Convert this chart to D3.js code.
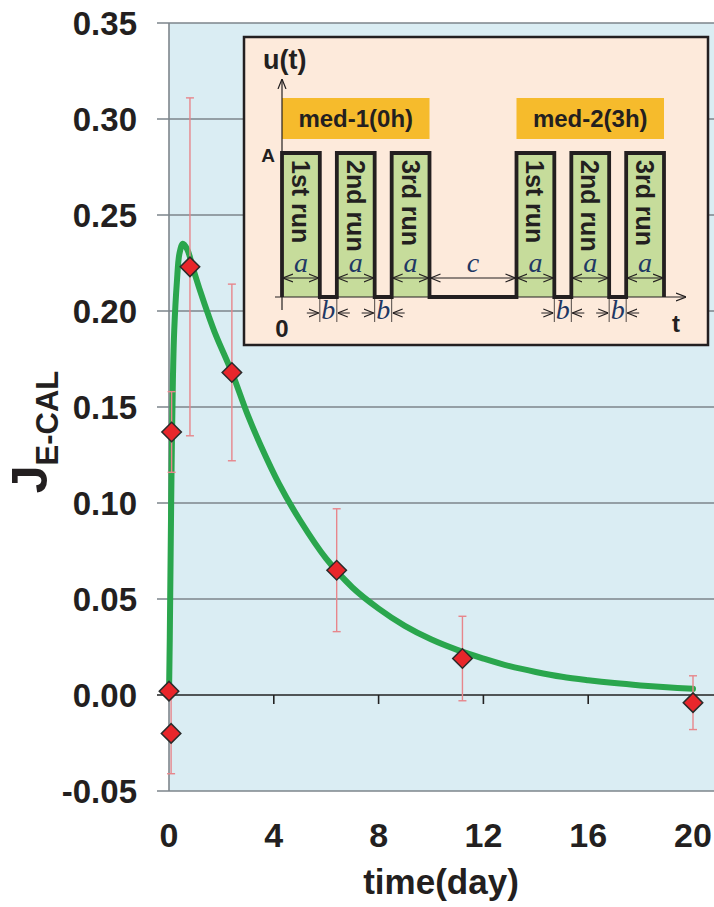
<!DOCTYPE html>
<html>
<head>
<meta charset="utf-8">
<script src="https://cdn.jsdelivr.net/npm/d3@7"></script>
<style>
  body { margin: 0; background: #fff; }
</style>
</head>
<body>
<div id="chart"></div>
<script>
// ----------------- //
// Data
// ----------------- //

// measured points (day, J) with error half-width
var pointDays = [0, 0.08, 0.1, 0.8, 2.4, 6.4, 11.2, 20]
var pointVals = [0.002, -0.020, 0.137, 0.223, 0.168, 0.065, 0.019, -0.004]
var pointErrs = [0, 0.021, 0.021, 0.088, 0.046, 0.032, 0.022, 0.014]

// fitted curve
var curveDays = [0, 0.03, 0.06, 0.1, 0.15, 0.2, 0.3, 0.4, 0.53, 0.7, 0.9, 1.2, 1.5, 1.8, 2.4, 3.0, 3.5, 4.2, 5.0, 6.0, 7.0, 8.0, 9.0, 10, 11, 12, 13, 14, 15, 16, 17, 18, 19, 20]
var curveVals = [0, 0.03, 0.07, 0.12, 0.165, 0.19, 0.215, 0.23, 0.235, 0.232, 0.223, 0.210, 0.198, 0.187, 0.168, 0.146, 0.130, 0.110, 0.091, 0.071, 0.056, 0.045, 0.036, 0.029, 0.0235, 0.019, 0.015, 0.012, 0.0095, 0.0077, 0.0062, 0.005, 0.004, 0.0032]

var xTicks = [0, 4, 8, 12, 16, 20]
var yTicks = [-0.05, 0, 0.05, 0.10, 0.15, 0.20, 0.25, 0.30, 0.35]

// inset: pulse schedule (relative units), labels
var pulseStarts = [0, 1.45, 2.9, 6.2, 7.65, 9.1]
var pulseWidth = 1
var pulseLabels = ["1st run", "2nd run", "3rd run", "1st run", "2nd run", "3rd run"]
var medLabels = ["med-1(0h)", "med-2(3h)"]

var SANS = "Liberation Sans, Arial, sans-serif"
var SERIF = "Liberation Serif, Times New Roman, serif"

// ----------------- //
// Canvas
// ----------------- //
var W = 714, H = 907
var svg = d3.select("#chart").append("svg")
    .attr("width", W)
    .attr("height", H)
    .attr("font-family", SANS)

var x = d3.scaleLinear().domain([0, 20]).range([169, 693])
var y = d3.scaleLinear().domain([-0.05, 0.35]).range([791, 23])

// plot background
svg.append("rect")
    .attr("x", x(0)).attr("y", y(0.35))
    .attr("width", W - x(0)).attr("height", y(-0.05) - y(0.35))
    .attr("fill", "#daedf3")

// gridlines
svg.append("g")
    .selectAll("line")
    .data(yTicks)
    .enter()
    .append("line")
    .attr("x1", x(0) - 12).attr("x2", W)
    .attr("y1", function(d) { return y(d) }).attr("y2", function(d) { return y(d) })
    .attr("stroke", function(d) { return d === 0 ? "#222" : "#7d858b" })
    .attr("stroke-width", 1.6)

// left axis line
svg.append("line")
    .attr("x1", x(0)).attr("x2", x(0))
    .attr("y1", y(0.35)).attr("y2", y(-0.05))
    .attr("stroke", "#7d858b").attr("stroke-width", 1.6)

// x ticks on zero line
svg.append("g")
    .selectAll("line")
    .data(xTicks.slice(1))
    .enter()
    .append("line")
    .attr("x1", function(d) { return x(d) }).attr("x2", function(d) { return x(d) })
    .attr("y1", y(0)).attr("y2", y(0) + 9)
    .attr("stroke", "#222").attr("stroke-width", 1.6)

// y tick labels (plain hyphen for the minus sign)
svg.append("g")
    .selectAll("text")
    .data(yTicks)
    .enter()
    .append("text")
    .attr("x", 137)
    .attr("y", function(d) { return y(d) })
    .attr("dy", "0.36em")
    .attr("text-anchor", "end")
    .attr("font-size", "33px")
    .attr("font-weight", "bold")
    .attr("fill", "#231f20")
    .text(function(d) { return (d < 0 ? "-" : "") + Math.abs(d).toFixed(2) })

// x tick labels
svg.append("g")
    .selectAll("text")
    .data(xTicks)
    .enter()
    .append("text")
    .attr("x", function(d) { return x(d) })
    .attr("y", 847)
    .attr("text-anchor", "middle")
    .attr("font-size", "34px")
    .attr("font-weight", "bold")
    .attr("fill", "#231f20")
    .text(function(d) { return d })

// axis titles
svg.append("text")
    .attr("x", 441).attr("y", 894)
    .attr("text-anchor", "middle")
    .attr("font-size", "35px")
    .attr("font-weight", "bold")
    .attr("fill", "#231f20")
    .text("time(day)")

var yl = svg.append("text")
    .attr("transform", "translate(47,432) rotate(-90)")
    .attr("text-anchor", "middle")
    .attr("font-weight", "bold")
    .attr("fill", "#231f20")
yl.append("tspan").attr("font-size", "50px").text("J")
yl.append("tspan").attr("font-size", "31px").attr("dy", 11).text("E-CAL")

// ------------------------------- //
// Inset
// ------------------------------- //
var ix0 = 244, iy0 = 37, iw = 464, ih = 308
var inset = svg.append("g")
inset.append("rect")
    .attr("x", ix0).attr("y", iy0)
    .attr("width", iw).attr("height", ih)
    .attr("fill", "#fdeadb")
    .attr("stroke", "#231f20").attr("stroke-width", 2.5)

// pulse scale: relative units to pixels
var px = d3.scaleLinear().domain([0, 10.1]).range([282, 664])
var pTop = 153, pBase = 297

var defs = svg.append("defs")
defs.append("marker")
    .attr("id", "chev").attr("viewBox", "0 -5 10 10")
    .attr("refX", 10).attr("refY", 0)
    .attr("markerWidth", 10).attr("markerHeight", 10)
    .attr("markerUnits", "userSpaceOnUse")
    .attr("orient", "auto-start-reverse")
    .append("path").attr("d", "M0,-4L10,0L0,4")
    .attr("fill", "none").attr("stroke", "#231f20").attr("stroke-width", 1.2)

// orange headers
var medStarts = [[0, 2.9 + pulseWidth], [6.2, 9.1 + pulseWidth]]
inset.selectAll(".med")
    .data(medLabels)
    .enter()
    .append("rect")
    .attr("x", function(d, i) { return px(medStarts[i][0]) })
    .attr("y", 98)
    .attr("width", function(d, i) { return px(medStarts[i][1]) - px(medStarts[i][0]) })
    .attr("height", 41)
    .attr("fill", "#f6bb2c")
inset.selectAll(".medt")
    .data(medLabels)
    .enter()
    .append("text")
    .attr("x", function(d, i) { return (px(medStarts[i][0]) + px(medStarts[i][1])) / 2 })
    .attr("y", 127)
    .attr("text-anchor", "middle")
    .attr("font-size", "24px").attr("font-weight", "bold")
    .attr("fill", "#231f20")
    .text(function(d) { return d })

// green pulse fills
inset.selectAll(".pulse")
    .data(pulseStarts)
    .enter()
    .append("rect")
    .attr("x", function(d) { return px(d) })
    .attr("y", pTop)
    .attr("width", function(d) { return px(d + pulseWidth) - px(d) })
    .attr("height", pBase - pTop)
    .attr("fill", "#c6dc9b")

// axes of the inset
inset.append("line")
    .attr("x1", 282).attr("x2", 282).attr("y1", 310).attr("y2", 79)
    .attr("stroke", "#231f20").attr("stroke-width", 1.2)
    .attr("marker-end", "url(#chev)")
inset.append("line")
    .attr("x1", 275).attr("x2", 686).attr("y1", pBase).attr("y2", pBase)
    .attr("stroke", "#231f20").attr("stroke-width", 1.2)
    .attr("marker-end", "url(#chev)")

// waveform outline
var wave = []
pulseStarts.forEach(function(s) {
    wave.push([px(s), pBase], [px(s), pTop], [px(s + pulseWidth), pTop], [px(s + pulseWidth), pBase])
})
inset.append("path")
    .attr("d", d3.line()(wave))
    .attr("fill", "none")
    .attr("stroke", "#231f20").attr("stroke-width", 3.8)
    .attr("stroke-linejoin", "miter")

// run labels (rotated)
inset.selectAll(".run")
    .data(pulseLabels)
    .enter()
    .append("text")
    .attr("transform", function(d, i) {
        return "translate(" + (px(pulseStarts[i] + pulseWidth / 2) - 9) + "," + 160 + ") rotate(90)"
    })
    .attr("font-size", "25px").attr("font-weight", "bold")
    .attr("fill", "#231f20")
    .text(function(d) { return d })

// "a" widths
inset.selectAll(".a")
    .data(pulseStarts)
    .enter()
    .append("text")
    .attr("x", function(d) { return px(d + pulseWidth / 2) })
    .attr("y", 272)
    .attr("text-anchor", "middle")
    .attr("font-family", SERIF)
    .attr("font-style", "italic")
    .attr("font-size", "28px")
    .attr("fill", "#1f3864")
    .text("a")
inset.selectAll(".aarr")
    .data(pulseStarts)
    .enter()
    .append("line")
    .attr("x1", function(d) { return px(d) + 1 }).attr("x2", function(d) { return px(d + pulseWidth) - 1 })
    .attr("y1", 278).attr("y2", 278)
    .attr("stroke", "#231f20").attr("stroke-width", 1)
    .attr("marker-start", "url(#chev)").attr("marker-end", "url(#chev)")

// "c" gap
inset.append("line")
    .attr("x1", px(2.9 + pulseWidth) + 1).attr("x2", px(6.2) - 1)
    .attr("y1", 278).attr("y2", 278)
    .attr("stroke", "#231f20").attr("stroke-width", 1)
    .attr("marker-start", "url(#chev)").attr("marker-end", "url(#chev)")
inset.append("text")
    .attr("x", (px(2.9 + pulseWidth) + px(6.2)) / 2).attr("y", 272)
    .attr("text-anchor", "middle")
    .attr("font-family", SERIF)
    .attr("font-style", "italic").attr("font-size", "28px")
    .attr("fill", "#1f3864")
    .text("c")

// "b" gaps
var gaps = [0, 1, 3, 4].map(function(i) { return [pulseStarts[i] + pulseWidth, pulseStarts[i + 1]] })
gaps.forEach(function(g) {
    var l = px(g[0]), r = px(g[1])
    inset.append("line").attr("x1", l).attr("x2", l).attr("y1", pBase).attr("y2", 322)
        .attr("stroke", "#231f20").attr("stroke-width", 0.8)
    inset.append("line").attr("x1", r).attr("x2", r).attr("y1", pBase).attr("y2", 322)
        .attr("stroke", "#231f20").attr("stroke-width", 0.8)
    inset.append("line").attr("x1", l - 13).attr("x2", l - 1).attr("y1", 313).attr("y2", 313)
        .attr("stroke", "#231f20").attr("stroke-width", 1).attr("marker-end", "url(#chev)")
    inset.append("line").attr("x1", r + 13).attr("x2", r + 1).attr("y1", 313).attr("y2", 313)
        .attr("stroke", "#231f20").attr("stroke-width", 1).attr("marker-end", "url(#chev)")
    inset.append("text")
        .attr("x", (l + r) / 2).attr("y", 319)
        .attr("text-anchor", "middle")
        .attr("font-family", SERIF)
        .attr("font-style", "italic").attr("font-size", "28px")
        .attr("fill", "#1f3864")
        .text("b")
})

// inset labels
inset.append("text").attr("x", 263).attr("y", 69)
    .attr("font-size", "27px").attr("font-weight", "bold").attr("fill", "#231f20").text("u(t)")
inset.append("text").attr("x", 268).attr("y", 162).attr("text-anchor", "middle")
    .attr("font-size", "19px").attr("font-weight", "bold").attr("fill", "#231f20").text("A")
inset.append("text").attr("x", 282).attr("y", 337).attr("text-anchor", "middle")
    .attr("font-size", "24px").attr("font-weight", "bold").attr("fill", "#231f20").text("0")
inset.append("text").attr("x", 676).attr("y", 332).attr("text-anchor", "middle")
    .attr("font-size", "24px").attr("font-weight", "bold").attr("fill", "#231f20").text("t")

// ------------------------------- //
// Curve, error bars, points
// ------------------------------- //
var curveData = curveDays.map(function(d, i) { return [d, curveVals[i]] })
svg.append("path")
    .datum(curveData)
    .attr("d", d3.line()
        .x(function(d) { return x(d[0]) })
        .y(function(d) { return y(d[1]) })
        .curve(d3.curveCatmullRom.alpha(0.5)))
    .attr("fill", "none")
    .attr("stroke", "#2aa64d")
    .attr("stroke-width", 6)
    .attr("stroke-linecap", "round")

var pts = pointDays.map(function(d, i) { return { t: d, v: pointVals[i], e: pointErrs[i] } })
var eb = svg.append("g").selectAll("g")
    .data(pts.filter(function(d) { return d.e > 0 }))
    .enter().append("g")
    .attr("stroke", "#e7868b").attr("stroke-width", 1.4)
eb.append("line")
    .attr("x1", function(d) { return x(d.t) }).attr("x2", function(d) { return x(d.t) })
    .attr("y1", function(d) { return y(d.v + d.e) }).attr("y2", function(d) { return y(d.v - d.e) })
eb.append("line")
    .attr("x1", function(d) { return x(d.t) - 4 }).attr("x2", function(d) { return x(d.t) + 4 })
    .attr("y1", function(d) { return y(d.v + d.e) }).attr("y2", function(d) { return y(d.v + d.e) })
eb.append("line")
    .attr("x1", function(d) { return x(d.t) - 4 }).attr("x2", function(d) { return x(d.t) + 4 })
    .attr("y1", function(d) { return y(d.v - d.e) }).attr("y2", function(d) { return y(d.v - d.e) })

svg.append("g").selectAll("path")
    .data(pts)
    .enter()
    .append("path")
    .attr("d", d3.symbol().type(d3.symbolSquare).size(190))
    .attr("transform", function(d) { return "translate(" + x(d.t) + "," + y(d.v) + ") rotate(45)" })
    .attr("fill", "#e8262b")
    .attr("stroke", "#2b2b2b")
    .attr("stroke-width", 1.5)
</script>
</body>
</html>
